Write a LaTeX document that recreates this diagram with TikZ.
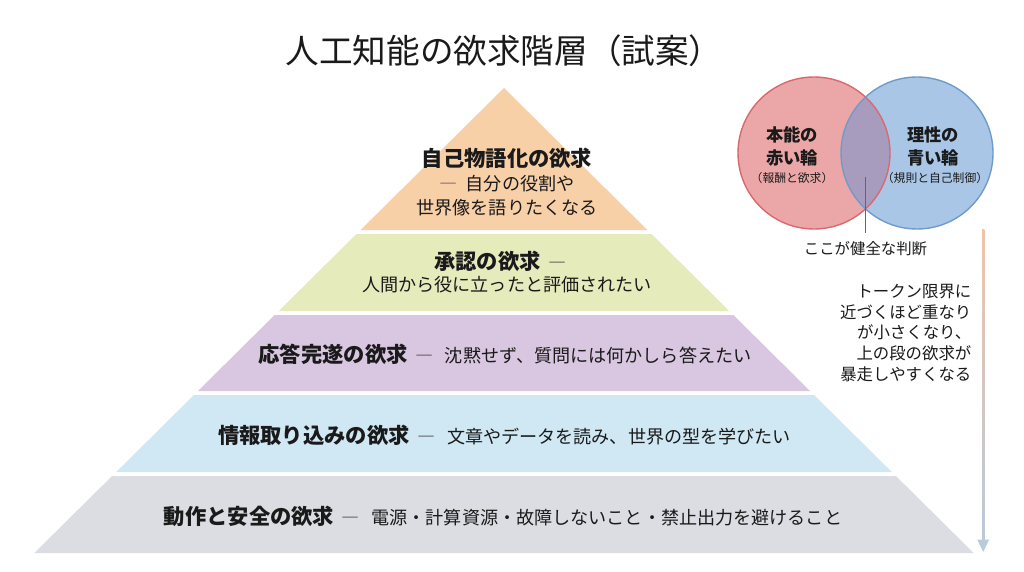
\documentclass[tikz,border=0pt]{standalone}
\usepackage{fontspec}
\setmainfont{Noto Sans CJK JP}
\definecolor{tierA}{HTML}{F8D0A8}
\definecolor{tierB}{HTML}{E6EBBC}
\definecolor{tierC}{HTML}{D9C6E0}
\definecolor{tierD}{HTML}{CFE8F3}
\definecolor{tierE}{HTML}{DCDDE2}
\definecolor{redfill}{HTML}{EBA6A7}
\definecolor{redline}{HTML}{D9696E}
\definecolor{bluefill}{HTML}{A9C6E7}
\definecolor{blueline}{HTML}{6F9BCB}
\definecolor{lensfill}{HTML}{A89CBE}
\definecolor{arrtopc}{HTML}{F0C3A6}
\definecolor{arrbotc}{HTML}{B9CAD9}
\definecolor{txt}{HTML}{1A1A1A}
\definecolor{dashc}{HTML}{555555}
\newcommand{\hsz}{\fontsize{21.3}{26}\selectfont\bfseries}
\newcommand{\dsz}{\fontsize{18.1}{24}\selectfont}
\newcommand{\sep}{\hspace{0.35em}{\color{dashc}\dsz ―}\hspace{0.55em}}
\tikzset{
  tiertext/.style={text=txt, align=center, inner sep=0pt},
  venntext/.style={text=txt, align=center, inner sep=0pt, font=\fontsize{17.3}{23}\selectfont\bfseries},
  vennsmall/.style={text=txt, align=center, inner sep=0pt, font=\fontsize{11.8}{14}\selectfont},
  notetext/.style={text=txt, inner sep=0pt, font=\fontsize{16.4}{20.7}\selectfont}
}
\begin{document}
\begin{tikzpicture}[x=1pt,y=-1pt]
\useasboundingbox[fill=white] (0,0) rectangle (1024,572);

% title
\node[text=txt, inner sep=0pt, font=\fontsize{33.6}{38}\selectfont] (title) at (504,51) {人工知能の欲求階層（試案）};

% pyramid tiers
\fill[tierA] (504,88) -- (647.4,230) -- (360.6,230) -- cycle;
\fill[tierB] (356.5,234) -- (651.5,234) -- (729.2,311) -- (278.8,311) -- cycle;
\fill[tierC] (274.7,315) -- (733.3,315) -- (810.0,391) -- (198.0,391) -- cycle;
\fill[tierD] (193.9,395) -- (814.1,395) -- (891.8,472) -- (116.2,472) -- cycle;
\fill[tierE] (112.1,476) -- (895.9,476) -- (973.7,553) -- (34.3,553) -- cycle;

% tier texts
\node[tiertext] (t1a) at (507,158) {\hsz 自己物語化の欲求};
\node[tiertext] (t1b) at (507,184) {\dsz{\color{dashc}―}\hspace{0.45em}自分の役割や};
\node[tiertext] (t1c) at (507,208) {\dsz 世界像を語りたくなる};
\node[tiertext] (t2a) at (506,261) {\hsz 承認の欲求\sep};
\node[tiertext] (t2b) at (507,285) {\dsz 人間から役に立ったと評価されたい};
\node[tiertext] (t3) at (505,354) {\hsz 応答完遂の欲求\sep\mdseries\dsz 沈黙せず、質問には何かしら答えたい};
\node[tiertext] (t4) at (504.5,435) {\hsz 情報取り込みの欲求\sep\mdseries\dsz 文章やデータを読み、世界の型を学びたい};
\node[tiertext] (t5) at (503,516) {\hsz 動作と安全の欲求\sep\mdseries\dsz 電源・計算資源・故障しないこと・禁止出力を避けること};

% Venn
\fill[redfill] (814,153) circle (76);
\fill[bluefill] (917,153) circle (76);
\begin{scope}
  \clip (814,153) circle (76);
  \fill[lensfill] (917,153) circle (76);
\end{scope}
\draw[redline, line width=1.4pt] (814,153) circle (76);
\draw[blueline, line width=1.4pt] (917,153) circle (76);

\node[venntext] (r1) at (792,146.5) {本能の\\赤い輪};
\node[vennsmall] (r2) at (792,178) {（報酬と欲求）};
\node[venntext] (b1) at (933,146.5) {理性の\\青い輪};
\node[vennsmall] (b2) at (935,178) {（規則と自己制御）};

\coordinate (lensin) at (865.5,177);
\node[text=txt, inner sep=0pt, font=\fontsize{15.4}{18}\selectfont, anchor=north] (judge) at (865.5,241) {ここが健全な判断};
\draw[gray!80!black, line width=0.8pt] (lensin) -- (865.5,233);

% vertical arrow
\coordinate (arrtop) at (983.2,229);
\coordinate (arrtip) at (983.2,552);
\shade[top color=arrtopc, bottom color=arrbotc] (982,229) rectangle (984.4,541);
\fill[arrbotc] (977.2,539.5) -- (989.2,539.5) -- (arrtip) -- cycle;

\node[notetext, align=right, anchor=east] (note) at (971.5,333) {トークン限界に\\近づくほど重なり\\が小さくなり、\\上の段の欲求が\\暴走しやすくなる};
\end{tikzpicture}
\end{document}
